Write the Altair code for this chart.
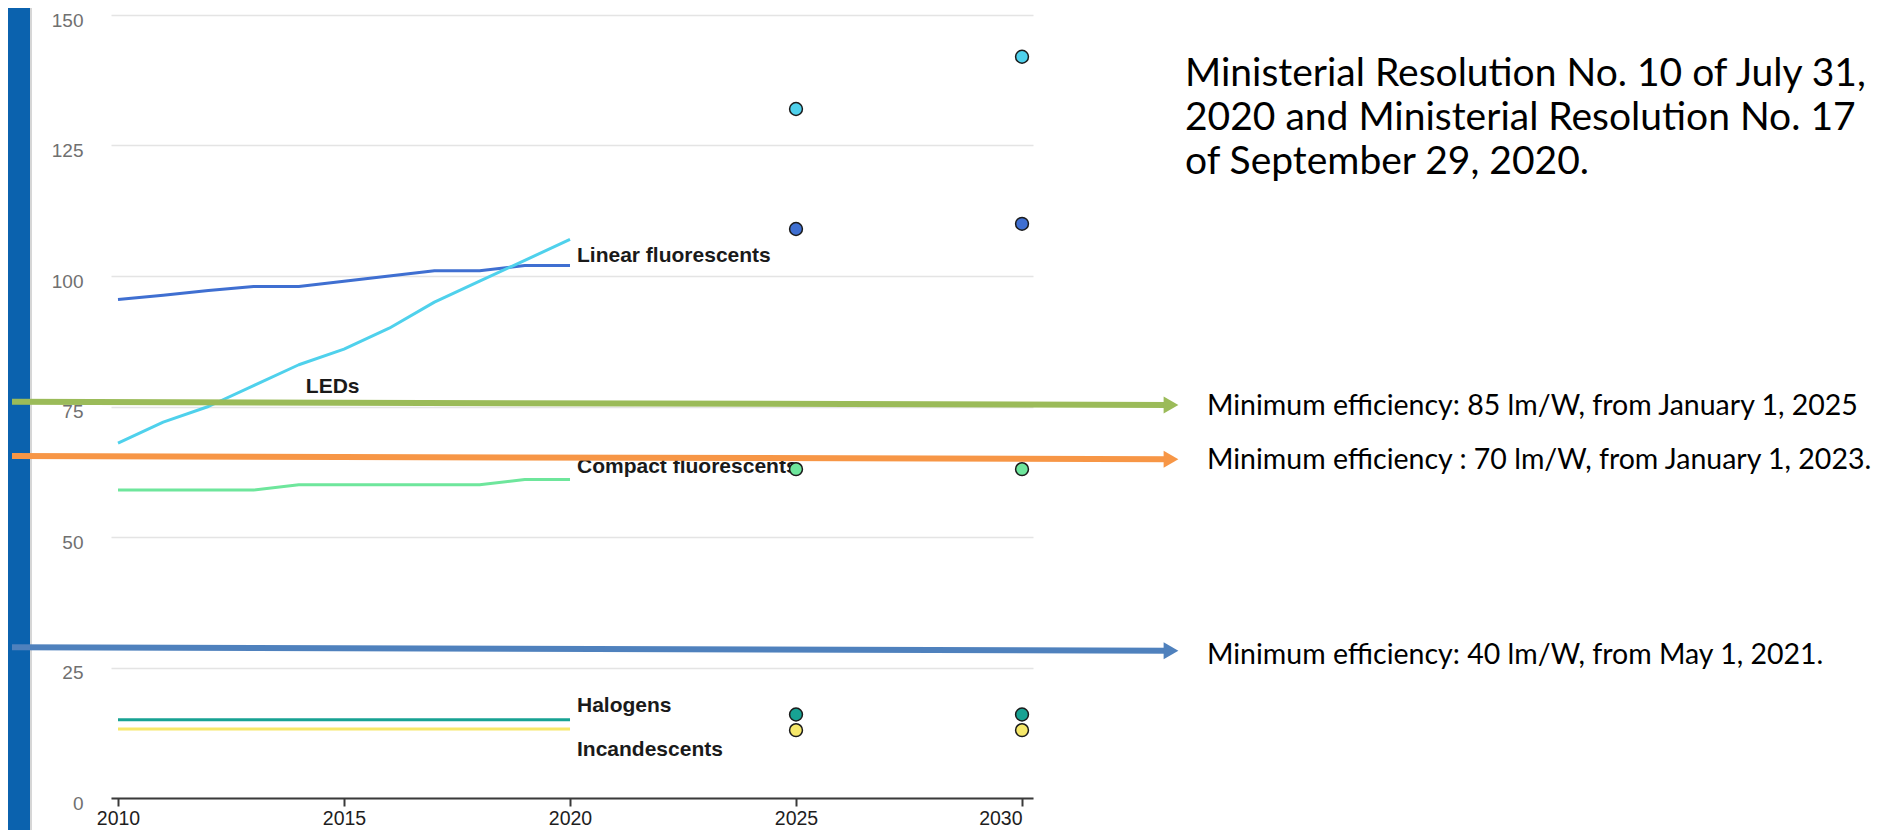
import altair as alt
import pandas as pd

# ---------------- data ----------------
years = [2010, 2011, 2012, 2013, 2014, 2015, 2016, 2017, 2018, 2019, 2020]
series_names = ["Linear fluorescents", "LEDs", "Compact fluorescents", "Halogens", "Incandescents"]

linear_fluorescents = [95.5, 96.3, 97.2, 98.0, 98.0, 99.0, 100.0, 101.0, 101.0, 102.0, 102.0]
leds = [68.0, 72.0, 75.0, 79.0, 83.0, 86.0, 90.0, 95.0, 99.0, 103.0, 107.0]
compact_fluorescents = [59.0, 59.0, 59.0, 59.0, 60.0, 60.0, 60.0, 60.0, 60.0, 61.0, 61.0]
halogens = [15.0, 15.0, 15.0, 15.0, 15.0, 15.0, 15.0, 15.0, 15.0, 15.0, 15.0]
incandescents = [13.2, 13.2, 13.2, 13.2, 13.2, 13.2, 13.2, 13.2, 13.2, 13.2, 13.2]

target_years = [2025, 2030]
target_linear = [109.0, 110.0]
target_leds = [132.0, 142.0]
target_compact = [63.0, 63.0]
target_halogens = [16.0, 16.0]
target_incandescents = [13.0, 13.0]

label_years = [2020, 2014, 2020, 2020, 2020]
label_values = [102.7, 77.6, 62.3, 16.5, 8.0]

note_text = ("Ministerial Resolution No. 10 of July 31,\n"
             "2020 and Ministerial Resolution No. 17\n"
             "of September 29, 2020.")
note_level = [136.4]

arrow_names = ["85 lm/W", "70 lm/W", "40 lm/W"]
arrow_texts = ["Minimum efficiency: 85 lm/W, from January 1, 2025",
               "Minimum efficiency : 70 lm/W, from January 1, 2023.",
               "Minimum efficiency: 40 lm/W, from May 1, 2021."]
arrow_start = [75.9, 65.5, 28.9]
arrow_end = [75.3, 64.9, 28.2]
arrow_text_level = [73.4, 63.0, 25.7]

x_ticks = [2010, 2015, 2020, 2025, 2030]
y_ticks = [0, 25, 50, 75, 100, 125, 150]

# ---------------- styles ----------------
series_colors = ["#3f6fd1", "#4fd1ec", "#6ee69c", "#17a293", "#f6e86a"]
arrow_colors = ["#9bbb59", "#f79646", "#4f81bd"]

# ---------------- tables ----------------
rows = []
for name, vals in zip(series_names, [linear_fluorescents, leds, compact_fluorescents, halogens, incandescents]):
    for yr, v in zip(years, vals):
        rows.append({"series": name, "year": yr, "value": v})
lines_df = pd.DataFrame(rows)

prow = []
for name, vals in zip(series_names, [target_linear, target_leds, target_compact, target_halogens, target_incandescents]):
    for yr, v in zip(target_years, vals):
        prow.append({"series": name, "year": yr, "value": v})
points_df = pd.DataFrame(prow)

labels_df = pd.DataFrame({"series": series_names, "year": label_years, "value": label_values})
arrows_df = pd.DataFrame({"name": arrow_names, "start": arrow_start, "end": arrow_end,
                          "level": arrow_text_level, "label": arrow_texts})
note_df = pd.DataFrame({"level": note_level, "label": [note_text]})
frame_df = pd.DataFrame({"panel": ["frame"]})

# ---------------- scales / axes ----------------
x_scale = alt.Scale(domain=[2009.845, 2030.243], nice=False, zero=False)
y_scale = alt.Scale(domain=[0, 150], nice=False, zero=True)
color_scale = alt.Scale(domain=series_names + arrow_names, range=series_colors + arrow_colors)

x_axis = alt.Axis(values=x_ticks, format="d", title=None, grid=False,
                  domainColor="#3a3a3a", domainWidth=2, tickColor="#3a3a3a", tickWidth=2,
                  tickSize=8, labelFont="Liberation Sans", labelFontSize=19.5,
                  labelColor="#1e1e1e", labelPadding=3, labelFlush=False,
                  labelAlign=alt.condition("datum.value == 2030", alt.value("right"), alt.value("center")))
y_axis = alt.Axis(values=y_ticks, title=None, grid=True, gridColor="#e4e4e4", gridWidth=1.5,
                  domain=False, ticks=False, labelFont="Liberation Sans", labelFontSize=19,
                  labelColor="#707070", labelPadding=28, labelOffset=5)

X = alt.X("year:Q", scale=x_scale, axis=x_axis)

# ---------------- layers ----------------
side_bar = alt.Chart(frame_df).mark_rect(color="#0b62ae").encode(
    x=alt.value(-103), x2=alt.value(-81), y=alt.value(-7), y2=alt.value(815))
side_line = alt.Chart(frame_df).mark_rule(color="#c9c9c9", strokeWidth=1.5).encode(
    x=alt.value(-80), y=alt.value(-7), y2=alt.value(815))

lines = alt.Chart(lines_df).mark_line(strokeWidth=3, strokeJoin="round").encode(
    x=X,
    y=alt.Y("value:Q", scale=y_scale, axis=y_axis),
    color=alt.Color("series:N", scale=color_scale, legend=None),
    order="year:Q",
)

labels = alt.Chart(labels_df).mark_text(
    align="left", baseline="alphabetic", dx=7, font="Liberation Sans",
    fontSize=21, fontWeight="bold", color="#1a1a1a").encode(
    x=X, y=alt.Y("value:Q", scale=y_scale, axis=y_axis), text="series:N")

points = alt.Chart(points_df).mark_circle(size=165, stroke="#1b1b1b", strokeWidth=1.5, opacity=1).encode(
    x=X, y=alt.Y("value:Q", scale=y_scale, axis=y_axis),
    fill=alt.Fill("series:N", scale=color_scale, legend=None))

arrow_shafts = alt.Chart(arrows_df).mark_rule(strokeWidth=6).encode(
    x=alt.value(-99), x2=alt.value(1059),
    y=alt.Y("start:Q", scale=y_scale, axis=y_axis), y2=alt.Y2("end:Q"),
    color=alt.Color("name:N", scale=color_scale, legend=None))

arrow_heads = alt.Chart(arrows_df).mark_point(shape="triangle-right", filled=True, size=290,
                                              opacity=1, strokeWidth=0).encode(
    x=alt.value(1060),
    y=alt.Y("end:Q", scale=y_scale, axis=y_axis),
    fill=alt.Fill("name:N", scale=color_scale, legend=None))

arrow_labels = alt.Chart(arrows_df).mark_text(
    align="left", baseline="alphabetic", font="Lato", fontSize=28.5, color="#000000").encode(
    x=alt.value(1096), y=alt.Y("level:Q", scale=y_scale, axis=y_axis), text="label:N")

note = alt.Chart(note_df).mark_text(
    align="left", baseline="alphabetic", font="Lato", fontSize=39, lineHeight=44,
    lineBreak="\n", color="#000000").encode(
    x=alt.value(1074), y=alt.Y("level:Q", scale=y_scale, axis=y_axis), text="label:N")

chart = alt.layer(
    side_bar, side_line, lines, labels, points, arrow_shafts, arrow_heads, arrow_labels, note
).properties(
    width=922, height=783,
    padding={"left": 103, "top": 7, "right": 851, "bottom": 32},
    autosize=alt.AutoSizeParams(type="none"),
    background="white",
).configure_view(stroke=None)

chart.save("out.html", embed_options={"renderer": "svg", "actions": False})
